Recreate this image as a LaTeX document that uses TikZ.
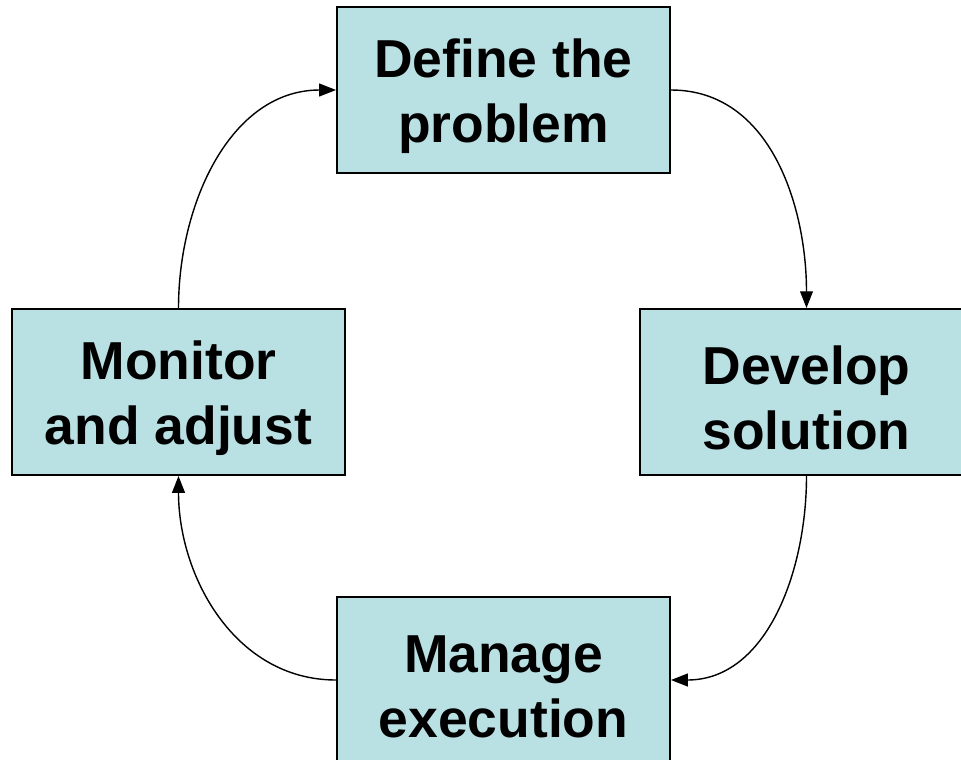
\documentclass[tikz,border=0pt]{standalone}
\usepackage{fontspec}
\setmainfont{Liberation Sans}
\usetikzlibrary{arrows.meta}
\definecolor{boxcyan}{RGB}{185,224,227}
\newcommand\toprow{\rule{0pt}{.95em}}

\begin{document}
\begin{tikzpicture}[x=.025cm,y=-.025cm,
        step box/.style={draw=black, line width=1.3pt, fill=boxcyan,
          minimum width=8.325cm, minimum height=4.15cm, inner sep=0pt,
          align=center, font=\fontsize{38}{46}\selectfont\bfseries},
        flow/.style={line width=1pt, -{Triangle[length=.42cm,width=.32cm]}}]
        \useasboundingbox (0,0) rectangle (961,759);
        \clip (0,0) rectangle (961,759);

        % the four stages
        \node[step box] (define)  at (503.5, 90) {\toprow Define the\\problem};
        \node[step box] (develop) at (806.5,392) {\toprow Develop\\solution};
        \node[step box] (manage)  at (503.5,680) {\toprow Manage\\execution};
        \node[step box] (monitor) at (178.5,392) {\toprow Monitor\\and adjust};

        % the cycle
        \draw[flow] (define.east)   to[out=0,  in=90 ] (develop.north);
        \draw[flow] (develop.south) to[out=270,in=0  ] (manage.east);
        \draw[flow] (manage.west)   to[out=180,in=270] (monitor.south);
        \draw[flow] (monitor.north) to[out=90, in=180] (define.west);
      \end{tikzpicture}
\end{document}
